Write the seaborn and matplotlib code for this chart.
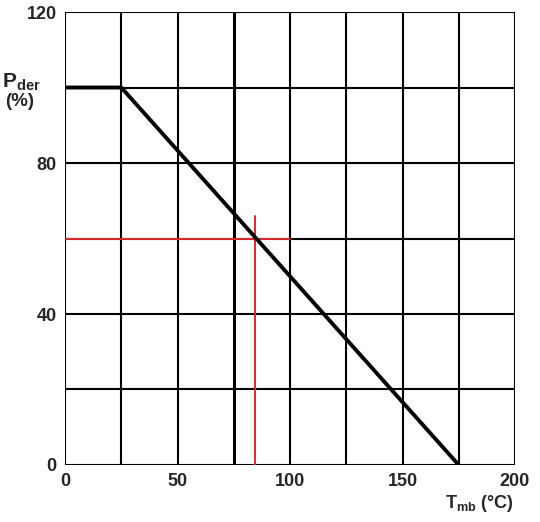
import pandas as pd
import numpy as np
import matplotlib
matplotlib.use("Agg")
import matplotlib.pyplot as plt
import seaborn as sns

sns.set_style("white")
plt.rcParams['font.family'] = ['Liberation Sans', 'DejaVu Sans']
plt.rcParams['font.weight'] = 'bold'
plt.rcParams['mathtext.fontset'] = 'custom'
plt.rcParams['mathtext.rm'] = 'Liberation Sans:bold'
plt.rcParams['mathtext.it'] = 'Liberation Sans:bold'

# derating curve
tmb = [0, 25, 175]
pder = [100, 100, 0]

# red example lines
red_h_x = [0, 100]
red_h_y = [60, 60]
red_v_x = [84.5, 84.5]
red_v_y = [0, 66]

x_ticks = [0, 50, 100, 150, 200]
y_ticks = [0, 40, 80, 120]

fig = plt.figure(figsize=(5.4, 5.22), dpi=100)
ax = fig.add_axes([0.1204, 0.1092, 0.8333, 0.8678])

for gx in np.arange(0, 201, 25):
    # the 75 line is drawn a bit heavier in the original
    ax.axvline(gx, color='black', lw=2.2 if gx == 75 else 1.5, zorder=1)
for gy in np.arange(0, 121, 20):
    ax.axhline(gy, color='black', lw=1.5, zorder=1)

red = '#e02828'
# estimator=None so seaborn does not average the repeated x of the vertical line
sns.lineplot(x=red_h_x, y=red_h_y, ax=ax, color=red, lw=1.4, zorder=2, estimator=None, sort=False)
sns.lineplot(x=red_v_x, y=red_v_y, ax=ax, color=red, lw=1.4, zorder=2, estimator=None, sort=False)
sns.lineplot(x=tmb, y=pder, ax=ax, color='black', lw=2.8, zorder=3, estimator=None, sort=False)

ax.set_xlim(0, 200)
ax.set_ylim(0, 120)
ax.set_xticks(x_ticks)
ax.set_yticks(y_ticks)
ax.tick_params(length=0, labelsize=13, pad=6)
for lab in ax.get_xticklabels() + ax.get_yticklabels():
    lab.set_fontweight('bold')
for s in ax.spines.values():
    s.set_visible(False)

fig.text(0.004, 0.843, r'$\mathrm{P_{der}}$', fontsize=15, ha='left', va='center')
fig.text(0.010, 0.806, '(%)', fontsize=13.5, ha='left', va='center', fontweight='bold')
fig.text(0.888, 0.036, r'$\mathrm{T_{mb}}$ (°C)', fontsize=13, ha='center', va='center', fontweight='bold')

fig.savefig("out.png", dpi=100)
